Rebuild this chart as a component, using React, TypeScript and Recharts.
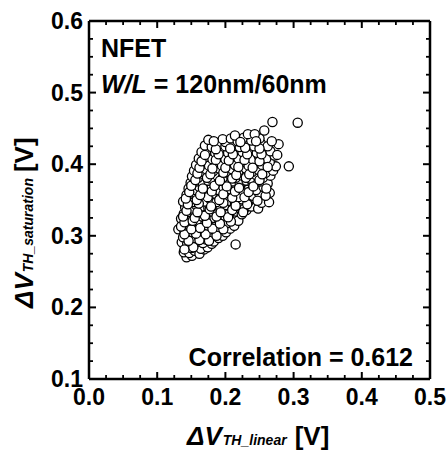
import { Scatter, ScatterChart, XAxis, YAxis } from 'recharts'

type Pt = [number, number]

const bottomBand: Pt[] = [
  [0.143, 0.27], [0.151, 0.272],
  [0.139, 0.277], [0.147, 0.276], [0.155, 0.279], [0.162, 0.275], [0.169, 0.281],
  [0.141, 0.285], [0.15, 0.283], [0.158, 0.287], [0.164, 0.282], [0.174, 0.284], [0.18, 0.289],
  [0.136, 0.291], [0.144, 0.289], [0.149, 0.294], [0.157, 0.291], [0.167, 0.29], [0.171, 0.295], [0.183, 0.292], [0.215, 0.288], [0.19, 0.297],
  [0.138, 0.298], [0.146, 0.301], [0.153, 0.297], [0.161, 0.299], [0.166, 0.303], [0.176, 0.298], [0.182, 0.302], [0.196, 0.3],
  [0.131, 0.309], [0.14, 0.306], [0.144, 0.311], [0.152, 0.305], [0.159, 0.309], [0.17, 0.307], [0.175, 0.312], [0.186, 0.306], [0.192, 0.311], [0.201, 0.305], [0.207, 0.31],
  [0.137, 0.316], [0.148, 0.314], [0.155, 0.318], [0.163, 0.315], [0.169, 0.319], [0.179, 0.316], [0.188, 0.319], [0.196, 0.315], [0.204, 0.318], [0.213, 0.314],
]

const lowerBand: Pt[] = [
  [0.135, 0.324], [0.142, 0.322], [0.15, 0.326], [0.158, 0.321], [0.166, 0.327], [0.173, 0.323], [0.184, 0.325], [0.191, 0.322], [0.199, 0.328], [0.21, 0.324], [0.219, 0.321],
  [0.139, 0.331], [0.146, 0.333], [0.155, 0.33], [0.162, 0.335], [0.171, 0.331], [0.18, 0.334], [0.188, 0.33], [0.197, 0.336], [0.206, 0.331], [0.215, 0.334], [0.224, 0.33], [0.231, 0.336],
  [0.141, 0.34], [0.15, 0.338], [0.157, 0.343], [0.165, 0.341], [0.175, 0.339], [0.182, 0.344], [0.193, 0.34], [0.201, 0.343], [0.211, 0.339], [0.22, 0.342], [0.228, 0.338], [0.238, 0.341], [0.248, 0.338],
  [0.138, 0.348], [0.146, 0.35], [0.154, 0.347], [0.161, 0.352], [0.17, 0.348], [0.178, 0.351], [0.187, 0.347], [0.196, 0.352], [0.206, 0.349], [0.214, 0.346], [0.224, 0.351], [0.234, 0.348], [0.243, 0.352], [0.253, 0.346], [0.264, 0.347],
  [0.143, 0.357], [0.151, 0.359], [0.158, 0.355], [0.167, 0.36], [0.176, 0.356], [0.184, 0.359], [0.193, 0.355], [0.201, 0.36], [0.212, 0.357], [0.219, 0.354], [0.23, 0.359], [0.24, 0.356], [0.249, 0.36],
]

const upperBand: Pt[] = [
  [0.146, 0.366], [0.155, 0.364], [0.162, 0.368], [0.172, 0.365], [0.18, 0.369], [0.19, 0.364], [0.197, 0.368], [0.207, 0.365], [0.216, 0.369], [0.226, 0.363], [0.235, 0.367], [0.245, 0.364], [0.256, 0.368], [0.265, 0.36],
  [0.149, 0.374], [0.158, 0.376], [0.167, 0.372], [0.175, 0.377], [0.185, 0.373], [0.193, 0.377], [0.203, 0.372], [0.211, 0.376], [0.221, 0.373], [0.231, 0.377], [0.24, 0.372], [0.251, 0.376], [0.262, 0.373],
  [0.151, 0.383], [0.16, 0.381], [0.169, 0.385], [0.178, 0.38], [0.188, 0.384], [0.196, 0.381], [0.206, 0.386], [0.215, 0.381], [0.225, 0.384], [0.236, 0.38], [0.245, 0.385], [0.255, 0.381], [0.266, 0.384],
  [0.154, 0.391], [0.164, 0.389], [0.172, 0.393], [0.182, 0.39], [0.191, 0.394], [0.201, 0.389], [0.21, 0.393], [0.219, 0.39], [0.23, 0.394], [0.239, 0.389], [0.249, 0.392], [0.259, 0.388], [0.27, 0.391], [0.274, 0.397],
  [0.157, 0.399], [0.167, 0.401], [0.176, 0.398], [0.186, 0.402], [0.195, 0.398], [0.205, 0.402], [0.214, 0.399], [0.224, 0.403], [0.234, 0.398], [0.244, 0.402], [0.254, 0.399], [0.265, 0.403],
]

const topBand: Pt[] = [
  [0.161, 0.408], [0.171, 0.41], [0.181, 0.407], [0.19, 0.411], [0.2, 0.407], [0.209, 0.411], [0.219, 0.408], [0.229, 0.412], [0.24, 0.407], [0.249, 0.411], [0.26, 0.408], [0.272, 0.412],
  [0.165, 0.417], [0.175, 0.419], [0.185, 0.416], [0.195, 0.42], [0.204, 0.416], [0.214, 0.42], [0.225, 0.417], [0.235, 0.42], [0.246, 0.416], [0.256, 0.42], [0.266, 0.418], [0.276, 0.413],
  [0.17, 0.426], [0.18, 0.424], [0.191, 0.428], [0.2, 0.425], [0.211, 0.429], [0.221, 0.424], [0.231, 0.428], [0.242, 0.425], [0.252, 0.429], [0.262, 0.425], [0.278, 0.428],
  [0.175, 0.434], [0.2, 0.431], [0.196, 0.435], [0.208, 0.436], [0.218, 0.432], [0.227, 0.437], [0.238, 0.433], [0.25, 0.436], [0.268, 0.432],
  [0.214, 0.44], [0.233, 0.442], [0.243, 0.442], [0.257, 0.447],
]

// points sitting between the bands in the dense core
const coreFill: Pt[] = [
  [0.14, 0.281], [0.153, 0.284], [0.146, 0.293], [0.162, 0.294], [0.176, 0.293], [0.14, 0.302], [0.157, 0.303], [0.171, 0.302], [0.187, 0.3],
  [0.135, 0.313], [0.15, 0.309], [0.163, 0.311], [0.181, 0.31], [0.197, 0.309], [0.14, 0.319], [0.152, 0.321], [0.173, 0.318], [0.192, 0.317], [0.208, 0.32],
  [0.138, 0.327], [0.155, 0.325], [0.17, 0.328], [0.187, 0.327], [0.204, 0.326], [0.143, 0.335], [0.159, 0.333], [0.177, 0.337], [0.193, 0.333], [0.21, 0.336], [0.226, 0.333],
  [0.145, 0.344], [0.161, 0.345], [0.179, 0.341], [0.197, 0.346], [0.215, 0.342], [0.232, 0.344], [0.142, 0.352], [0.158, 0.35], [0.174, 0.354], [0.191, 0.35], [0.21, 0.353], [0.228, 0.354], [0.247, 0.349],
  [0.147, 0.361], [0.163, 0.357], [0.18, 0.362], [0.197, 0.358], [0.214, 0.362], [0.234, 0.361], [0.259, 0.356],
  [0.15, 0.37], [0.167, 0.366], [0.184, 0.37], [0.202, 0.369], [0.22, 0.367], [0.241, 0.369], [0.26, 0.366],
  [0.156, 0.378], [0.173, 0.381], [0.192, 0.377], [0.21, 0.38], [0.23, 0.381], [0.25, 0.378],
  [0.159, 0.387], [0.178, 0.386], [0.197, 0.388], [0.216, 0.385], [0.235, 0.386], [0.254, 0.386],
  [0.162, 0.395], [0.181, 0.394], [0.2, 0.395], [0.219, 0.396], [0.24, 0.395], [0.262, 0.396],
  [0.165, 0.404], [0.186, 0.406], [0.205, 0.405], [0.228, 0.406], [0.25, 0.404],
  [0.17, 0.413], [0.19, 0.414], [0.211, 0.414], [0.232, 0.414], [0.253, 0.414],
  [0.186, 0.421], [0.207, 0.422], [0.229, 0.423], [0.25, 0.422], [0.183, 0.432], [0.222, 0.431], [0.245, 0.432],
]

const outliers: Pt[] = [[0.293, 0.397], [0.269, 0.459], [0.306, 0.458]]

const xTicks = [
  0, 0.025, 0.05, 0.075, 0.1, 0.125, 0.15, 0.175, 0.2, 0.225, 0.25,
  0.275, 0.3, 0.325, 0.35, 0.375, 0.4, 0.425, 0.45, 0.475, 0.5,
]
const yTicks = [
  0.1, 0.125, 0.15, 0.175, 0.2, 0.225, 0.25, 0.275, 0.3, 0.325, 0.35,
  0.375, 0.4, 0.425, 0.45, 0.475, 0.5, 0.525, 0.55, 0.575, 0.6,
]

const data = [...bottomBand, ...lowerBand, ...upperBand, ...topBand, ...coreFill, ...outliers].map(
  ([lin, sat]) => ({ lin, sat }),
)

const FONT = '"Liberation Sans", Arial, sans-serif'
const isMajor = (v: number) => Math.abs(v * 10 - Math.round(v * 10)) < 1e-6

function tickMark(x1: number, y1: number, x2: number, y2: number, major: boolean) {
  return <line x1={x1} y1={y1} x2={x2} y2={y2} stroke="#000" strokeWidth={major ? 2 : 1.8} />
}

function BottomTick({ x, y, payload }: any) {
  const major = isMajor(payload.value)
  return (
    <g>
      {tickMark(x, y, x, y - (major ? 7 : 4), major)}
      {major && (
        <text x={x} y={y + 26} textAnchor="middle" fontFamily={FONT} fontWeight="bold" fontSize={23} fill="#000">
          {payload.value.toFixed(1)}
        </text>
      )}
    </g>
  )
}

function TopTick({ x, y, payload }: any) {
  const major = isMajor(payload.value)
  return <g>{tickMark(x, y, x, y + (major ? 7 : 4), major)}</g>
}

function LeftTick({ x, y, payload }: any) {
  const major = isMajor(payload.value)
  return (
    <g>
      {tickMark(x, y, x + (major ? 7 : 4), y, major)}
      {major && (
        <text x={x - 6} y={y + 8} textAnchor="end" fontFamily={FONT} fontWeight="bold" fontSize={23} fill="#000">
          {payload.value.toFixed(1)}
        </text>
      )}
    </g>
  )
}

function RightTick({ x, y, payload }: any) {
  const major = isMajor(payload.value)
  return <g>{tickMark(x, y, x - (major ? 7 : 4), y, major)}</g>
}

const OpenCircle = (props: any) => (
  <circle cx={props.cx} cy={props.cy} r={4.6} fill="#fff" stroke="#000" strokeWidth={1.3} />
)
const NoMark = () => <g />

const axisLine = { stroke: '#000', strokeWidth: 2.5 }

export default function App() {
  return (
    <div style={{ position: 'absolute', left: 0, top: 0, background: '#fff' }}>
      <ScatterChart width={447} height={450} margin={{ top: 20, right: 16, bottom: 0, left: 0 }}>
        <XAxis
          xAxisId="b"
          type="number"
          dataKey="lin"
          domain={[0, 0.5]}
          ticks={xTicks}
          interval={0}
          height={71}
          tickSize={0}
          tickMargin={0}
          tickLine={false}
          axisLine={axisLine}
          tick={<BottomTick />}
        />
        <XAxis
          xAxisId="t"
          orientation="top"
          type="number"
          dataKey="lin"
          domain={[0, 0.5]}
          ticks={xTicks}
          interval={0}
          height={1}
          tickSize={0}
          tickMargin={0}
          tickLine={false}
          axisLine={axisLine}
          tick={<TopTick />}
        />
        <YAxis
          yAxisId="l"
          type="number"
          dataKey="sat"
          domain={[0.1, 0.6]}
          ticks={yTicks}
          interval={0}
          width={89}
          tickSize={0}
          tickMargin={0}
          tickLine={false}
          axisLine={axisLine}
          tick={<LeftTick />}
        />
        <YAxis
          yAxisId="r"
          orientation="right"
          type="number"
          dataKey="sat"
          domain={[0.1, 0.6]}
          ticks={yTicks}
          interval={0}
          width={1}
          tickSize={0}
          tickMargin={0}
          tickLine={false}
          axisLine={axisLine}
          tick={<RightTick />}
        />
        <Scatter xAxisId="t" yAxisId="r" data={data} shape={NoMark} isAnimationActive={false} />
        <Scatter xAxisId="b" yAxisId="l" data={data} shape={OpenCircle} isAnimationActive={false} />

        <text x={101} y={57} fontFamily={FONT} fontWeight="bold" fontSize={25} fill="#000">
          NFET
        </text>
        <text x={101} y={93} fontFamily={FONT} fontWeight="bold" fontSize={25} fill="#000">
          <tspan fontStyle="italic">W/L</tspan> = 120nm/60nm
        </text>
        <text x={413} y={366} textAnchor="end" fontFamily={FONT} fontWeight="bold" fontSize={25} fill="#000">
          Correlation = 0.612
        </text>

        <text x={187} y={445} fontFamily={FONT} fontWeight="bold" fontSize={26} fill="#000">
          <tspan fontStyle="italic">ΔV</tspan>
          <tspan fontStyle="italic" fontSize={14} dx={1}>TH_linear</tspan>
          <tspan dx={8}>[V]</tspan>
        </text>
        <text
          transform="rotate(-90)"
          x={-308}
          y={33}
          fontFamily={FONT}
          fontWeight="bold"
          fontSize={26}
          fill="#000"
        >
          <tspan fontStyle="italic">ΔV</tspan>
          <tspan fontStyle="italic" fontSize={14} dx={1}>TH_saturation</tspan>
          <tspan dx={6}>[V]</tspan>
        </text>
      </ScatterChart>
    </div>
  )
}
